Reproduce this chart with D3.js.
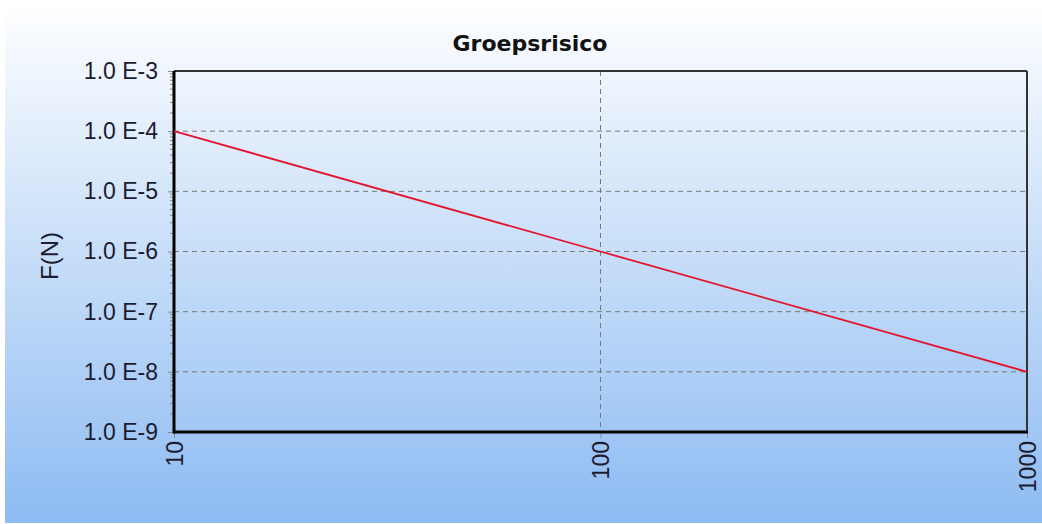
<!DOCTYPE html>
<html><head><meta charset="utf-8">
<script src="https://cdn.jsdelivr.net/npm/d3@7"></script>
<style>html,body{margin:0;padding:0;background:#fff;}svg{display:block;}</style>
</head><body>
<svg id="c" width="1042" height="524"></svg>
<script>
const title = "Groepsrisico";
const yTitle = "F(N)";
const xValues = [10, 100, 1000];
const fValues = [1e-4, 1e-6, 1e-8];
const xTicks = [10, 100, 1000];
const xTickLabels = ["10", "100", "1000"];
const yTicks = [1e-3, 1e-4, 1e-5, 1e-6, 1e-7, 1e-8, 1e-9];
const yTickLabels = ["1.0 E-3", "1.0 E-4", "1.0 E-5", "1.0 E-6", "1.0 E-7", "1.0 E-8", "1.0 E-9"];

const svg = d3.select("#c");
const W = 1042, H = 524;
const m = {l:174, r:1027, t:71, b:432};

const defs = svg.append("defs");
const g = defs.append("linearGradient").attr("id","bg").attr("x1",0).attr("y1",0).attr("x2",0).attr("y2",1);
g.append("stop").attr("offset","0%").attr("stop-color","#ffffff");
g.append("stop").attr("offset","100%").attr("stop-color","#8dbbf2");
svg.append("rect").attr("x",5).attr("y",0).attr("width",W-5).attr("height",H-1).attr("fill","url(#bg)");

const x = d3.scaleLog().domain([10,1000]).range([m.l, m.r]);
const y = d3.scaleLog().domain([1e-9,1e-3]).range([m.b, m.t]);

// grid
const grid = svg.append("g").attr("stroke","#777").attr("stroke-width",1).attr("stroke-dasharray","5,4");
grid.selectAll("line.h").data(yTicks.slice(1,-1)).join("line")
  .attr("x1",m.l).attr("x2",m.r).attr("y1",d=>y(d)).attr("y2",d=>y(d));
grid.selectAll("line.v").data([100]).join("line")
  .attr("y1",m.t).attr("y2",m.b).attr("x1",d=>x(d)).attr("x2",d=>x(d));

// minor ticks on y
const minor = [];
for (let e=-9; e<-3; e++) for (let k=2; k<=9; k++) minor.push(k*Math.pow(10,e));
svg.append("g").selectAll("line").data(minor).join("line")
  .attr("x1",m.l-4).attr("x2",m.l).attr("y1",d=>y(d)).attr("y2",d=>y(d))
  .attr("stroke","#888").attr("stroke-width",1);

// y axis
const yAxis = d3.axisLeft(y).tickValues(yTicks).tickSize(6).tickPadding(10)
  .tickFormat((d,i)=>yTickLabels[i]);
const ya = svg.append("g").attr("transform",`translate(${m.l},0)`).call(yAxis);
ya.select(".domain").remove();
ya.selectAll(".tick line").attr("stroke","#888");
ya.selectAll(".tick text").attr("font-family","'Liberation Sans', Arial, sans-serif")
  .attr("font-size",23).attr("fill","#1c1c30");

// x axis
const xAxis = d3.axisBottom(x).tickValues(xTicks).tickSize(6).tickFormat((d,i)=>xTickLabels[i]);
const xa = svg.append("g").attr("transform",`translate(0,${m.b})`).call(xAxis);
xa.select(".domain").remove();
xa.selectAll(".tick line").attr("stroke","#888");
xa.selectAll(".tick text").attr("font-family","'Liberation Sans', Arial, sans-serif")
  .attr("font-size",23).attr("fill","#1c1c30")
  .attr("transform","rotate(-90)").attr("text-anchor","end")
  .attr("x",-9).attr("y",0).attr("dy","0.35em");

// frame
svg.append("line").attr("x1",m.l).attr("x2",m.r).attr("y1",m.t).attr("y2",m.t).attr("stroke","#333").attr("stroke-width",2);
svg.append("line").attr("x1",m.r).attr("x2",m.r).attr("y1",m.t).attr("y2",m.b).attr("stroke","#333").attr("stroke-width",2);
svg.append("line").attr("x1",m.l).attr("x2",m.l).attr("y1",m.t).attr("y2",m.b+1.5).attr("stroke","#000").attr("stroke-width",3);
svg.append("line").attr("x1",m.l).attr("x2",m.r+1).attr("y1",m.b).attr("y2",m.b).attr("stroke","#000").attr("stroke-width",3);

// series
const data = xValues.map((v,i)=>({x:v, y:fValues[i]}));
svg.append("path").datum(data)
  .attr("d", d3.line().x(d=>x(d.x)).y(d=>y(d.y)))
  .attr("fill","none").attr("stroke","#e3142c").attr("stroke-width",1.8);

// titles
svg.append("text").attr("x",530).attr("y",51).attr("text-anchor","middle")
  .attr("font-family","'DejaVu Sans', sans-serif").attr("font-weight","bold")
  .attr("font-size",22).attr("fill","#111").text(title);
svg.append("text").attr("transform","translate(58,256) rotate(-90)").attr("text-anchor","middle")
  .attr("font-family","'Liberation Sans', Arial, sans-serif").attr("font-size",24)
  .attr("fill","#1c1c30").text(yTitle);
</script>
</body></html>
